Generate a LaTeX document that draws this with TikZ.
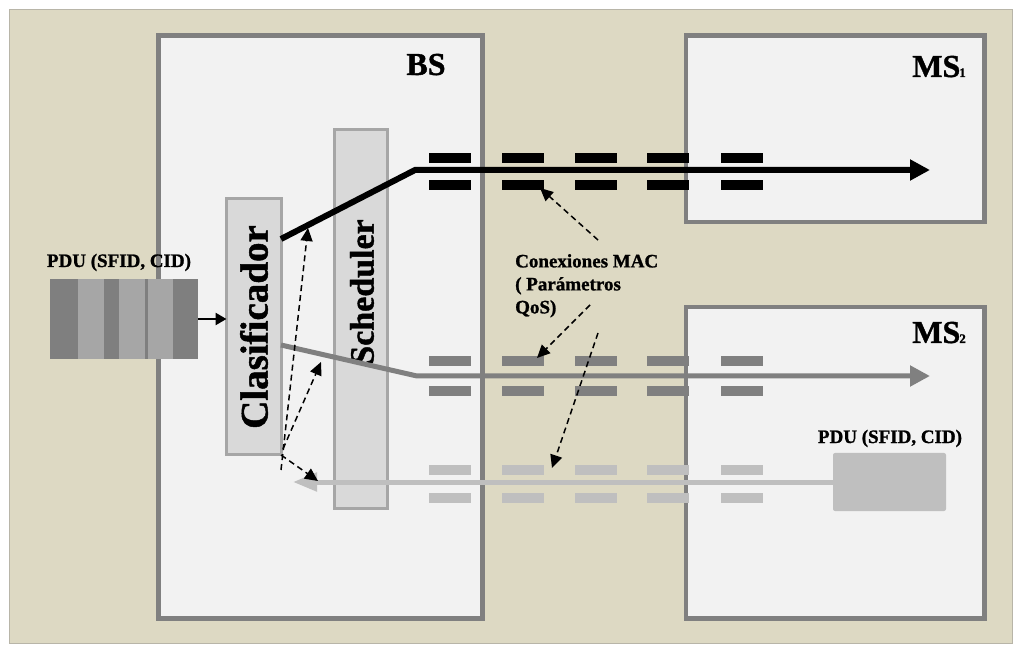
\documentclass[tikz,border=0pt]{standalone}
\usepackage{fontspec}
\setmainfont{Liberation Serif}[BoldFeatures={FakeBold=1.2}]
\usetikzlibrary{arrows.meta,calc}
\definecolor{bgbeige}{HTML}{DDD9C3}
\definecolor{bgline}{HTML}{B8B5A8}
\definecolor{boxfill}{HTML}{F2F2F2}
\definecolor{boxline}{HTML}{808080}
\definecolor{innerfill}{HTML}{D9D9D9}
\definecolor{innerline}{HTML}{A6A6A6}
\definecolor{midgray}{HTML}{808080}
\definecolor{lightg}{HTML}{BFBFBF}
\definecolor{stripeA}{HTML}{7F7F7F}
\definecolor{stripeB}{HTML}{A6A6A6}
\begin{document}
\begin{tikzpicture}[x=1pt,y=-1pt,
  panel/.style={draw=boxline, fill=boxfill, line width=4.5pt, inner sep=0pt, outer sep=0pt},
  module/.style={draw=innerline, fill=innerfill, line width=3pt, inner sep=0pt, outer sep=0pt},
  lbl/.style={font=\bfseries\fontsize{19}{23}\selectfont, inner sep=0pt},
  title/.style={font=\bfseries\fontsize{32}{32}\selectfont, inner sep=0pt},
  vert/.style={font=\bfseries\fontsize{#1}{#1}\selectfont, inner sep=0pt, rotate=90},
  ptr/.style={draw=black, line width=1.5pt, dash pattern=on 6pt off 4pt, -{Triangle[length=13pt,width=12pt]}},
  flow/.style={line width=#1, line cap=butt, line join=miter},
]
\useasboundingbox (0,0) rectangle (1021,652);
% background
\node[draw=bgline, fill=bgbeige, line width=0.8pt, minimum width=1003pt, minimum height=634pt, inner sep=0pt] (bg) at (510.5,326) {};

% panels
\node[panel, minimum width=324pt, minimum height=583pt] (bs) at (320.5,327) {};
\node[panel, minimum width=298.5pt, minimum height=186.5pt] (ms1) at (835.25,128.75) {};
\node[panel, minimum width=298.5pt, minimum height=311.5pt] (ms2) at (835.25,462.75) {};

% labels of panels
\node[title, anchor=base] (bslbl) at (426,75) {BS};
\node[title, anchor=base east] (ms1lbl) at (966,77) {MS\kern-1pt{\fontsize{13}{13}\selectfont 1}};
\node[title, anchor=base east] (ms2lbl) at (966,343) {MS\kern-1pt{\fontsize{13}{13}\selectfont 2}};

% scheduler & clasificador
\node[module, minimum width=53pt, minimum height=378pt] (sched) at (361,319) {};
\node[vert=34] (schedlbl) at (362,292) {Scheduler};
\node[module, minimum width=54.5pt, minimum height=256.5pt] (clas) at (253.75,326.75) {};
\node[vert=39] (claslbl) at (254,327) {Clasificador};

% left PDU
\node[minimum width=148pt, minimum height=80pt, inner sep=0pt] (pdu) at (124,319) {};
\fill[stripeA] (50,279) rectangle (78,359);
\fill[stripeB] (78,279) rectangle (104,359);
\fill[stripeA] (104,279) rectangle (119,359);
\fill[stripeB] (119,279) rectangle (145,359);
\fill[stripeA] (145,279) rectangle (148,359);
\fill[stripeB] (148,279) rectangle (173,359);
\fill[stripeA] (173,279) rectangle (198,359);
\node[lbl, anchor=base] (pdulbl) at (119,267) {PDU (SFID, CID)};

% right PDU
\node[fill=lightg, rounded corners=2pt, minimum width=113pt, minimum height=58pt, inner sep=0pt] (pdu2) at (889.5,482) {};
\node[lbl, anchor=base] (pdu2lbl) at (890,443) {PDU (SFID, CID)};

% connection bars
\foreach \x in {429,502,575,647,721} {
  \fill[black] (\x,153) rectangle ++(42,10);
  \fill[black] (\x,180) rectangle ++(42,10);
  \fill[midgray] (\x,356) rectangle ++(42,10);
  \fill[midgray] (\x,386) rectangle ++(42,10);
  \fill[lightg] (\x,465) rectangle ++(42,10);
  \fill[lightg] (\x,493) rectangle ++(42,10);
}

% coordinates for flows
\coordinate (k0) at (281,239);
\coordinate (k1) at (415,170);
\coordinate (k2) at (930,170);
\coordinate (g0) at (281,345);
\coordinate (g1) at (417,376);
\coordinate (g2) at (930,376);
\coordinate (l2) at (293,482);

% flows
\draw[flow=6pt, black, -{Triangle[length=20pt,width=20pt]}] (clas.east |- k0) -- (k1) -- (k2);
\draw[flow=5pt, midgray, -{Triangle[length=20pt,width=20pt]}] (clas.east |- g0) -- (g1) -- (g2);
\draw[flow=5pt, lightg, -{Triangle[length=24pt,width=18pt]}] (pdu2.west) -- (l2);
\draw[line width=2.5pt, -{Triangle[length=11pt,width=12pt]}] (pdu.east) -- (clas.west |- pdu.east);

% text
\node[lbl, align=left, anchor=north west] (mac) at (515,254) {Conexiones MAC\\( Parámetros\\QoS)};

% dashed pointers from text
\coordinate (t1) at (598,240);
\coordinate (t2) at (590,305);
\coordinate (t3) at (598,333);
\coordinate (h1) at (540,188);
\coordinate (h2) at (537,358);
\coordinate (h3) at (552,468);
\draw[ptr] (t1) -- (h1);
\draw[ptr] (t2) -- (h2);
\draw[ptr] (t3) -- (h3);

% dashed pointers from clasificador
\coordinate (c1) at (281,470);
\coordinate (c2) at (283,449);
\coordinate (e1) at (308,228);
\coordinate (e2) at (321,362);
\coordinate (e3) at (318,481);
\draw[ptr] (c1) -- (e1);
\draw[ptr] (c2) -- (e2);
\draw[ptr] (clas.south east) -- (e3);
\end{tikzpicture}
\end{document}
